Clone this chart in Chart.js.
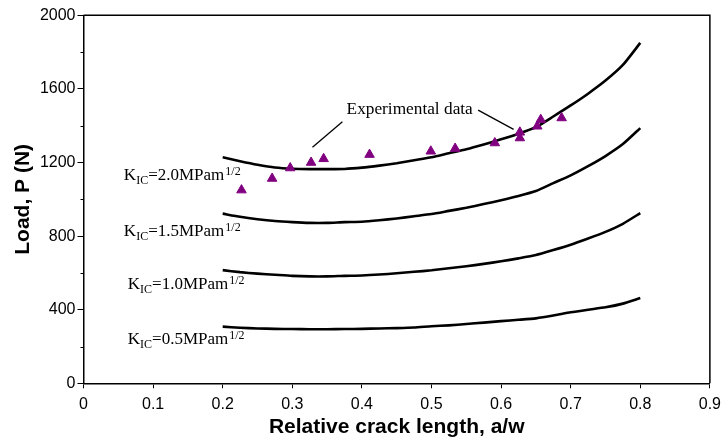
<!DOCTYPE html>
<html>
<head>
<meta charset="utf-8">
<script src="https://cdn.jsdelivr.net/npm/chart.js@4.4.1/dist/chart.umd.min.js"></script>
<style>
  html, body { margin: 0; padding: 0; background: #fff; }
  #wrap { width: 728px; height: 440px; }
</style>
</head>
<body>
<div id="wrap"><canvas id="loadChart" width="728" height="440"></canvas></div>
<script>
// relative crack length a/w where the model curves were evaluated
const crackRatio = [0.2, 0.225, 0.25, 0.275, 0.3, 0.325, 0.35, 0.375, 0.4, 0.425, 0.45, 0.475, 0.5,
  0.525, 0.55, 0.575, 0.6, 0.625, 0.65, 0.675, 0.7, 0.725, 0.75, 0.775, 0.8];

// predicted load (N) for each fracture toughness
const loadK20 = [1228, 1207, 1188, 1173, 1166, 1164, 1164, 1165, 1172, 1183, 1196, 1212, 1228,
  1250, 1272, 1298, 1326, 1356, 1392, 1450, 1510, 1574, 1645, 1730, 1850];
const loadK15 = [922, 905, 892, 882, 876, 872, 872, 876, 878, 886, 896, 908, 920,
  937, 954, 974, 995, 1018, 1045, 1088, 1130, 1180, 1235, 1300, 1387];
const loadK10 = [615, 604, 596, 590, 584, 581, 581, 584, 586, 591, 598, 606, 614,
  625, 636, 649, 663, 679, 697, 724, 753, 787, 823, 867, 925];
const loadK05 = [308, 302, 298, 296, 295, 294, 294, 295, 296, 298, 300, 303, 310,
  315, 322, 330, 338, 345, 353, 368, 386, 400, 413, 433, 463];

// measured loads
const expRatio = [0.227, 0.271, 0.297, 0.327, 0.345, 0.411, 0.499, 0.534, 0.591, 0.627, 0.627, 0.652, 0.657, 0.687];
const expLoad = [1050, 1113, 1170, 1200, 1220, 1243, 1261, 1276, 1306, 1333, 1364, 1397, 1433, 1442];

const kicValues = ['2.0', '1.5', '1.0', '0.5'];
const xTitle = 'Relative crack length, a/w';
const yTitle = 'Load, P (N)';
const noteText = 'Experimental data';

const toPoints = (xs, ys) => xs.map((v, i) => ({ x: v, y: ys[i] }));

const curve = (vals) => ({
  type: 'line',
  data: toPoints(crackRatio, vals),
  borderColor: '#000',
  borderWidth: 2.6,
  pointRadius: 0,
  tension: 0.2,
  fill: false
});

const serif = '"Liberation Serif", "Times New Roman", serif';
const sans = '"Liberation Sans", Arial, sans-serif';

function drawPart(ctx, text, px, py, size) {
  ctx.font = size + 'px ' + serif;
  ctx.fillText(text, px, py);
  return px + ctx.measureText(text).width;
}

// labels, leader lines, frame and minor ticks
const curveNotes = {
  id: 'curveNotes',
  afterDraw(chart) {
    const { ctx, chartArea: a, scales: { x, y } } = chart;
    ctx.save();
    ctx.strokeStyle = '#000';
    ctx.fillStyle = '#000';

    ctx.lineWidth = 1.5;
    ctx.beginPath();
    ctx.moveTo(a.left, a.top);
    ctx.lineTo(a.right, a.top);
    ctx.lineTo(a.right, a.bottom);
    ctx.stroke();

    ctx.lineWidth = 1;
    for (let v = 200; v < 2000; v += 400) {
      const py = Math.round(y.getPixelForValue(v)) + 0.5;
      ctx.beginPath();
      ctx.moveTo(a.left - 3, py);
      ctx.lineTo(a.left, py);
      ctx.stroke();
    }

    ctx.textBaseline = 'alphabetic';
    ctx.textAlign = 'left';
    const spots = [[0.058, 1105], [0.058, 802], [0.0637, 511], [0.0637, 215]];
    kicValues.forEach((k, i) => {
      let px = x.getPixelForValue(spots[i][0]);
      const py = y.getPixelForValue(spots[i][1]);
      px = drawPart(ctx, 'K', px, py, 17);
      px = drawPart(ctx, 'IC', px, py + 4, 12);
      px = drawPart(ctx, '=' + k + 'MPam', px, py, 17);
      drawPart(ctx, '1/2', px + 1, py - 5, 12);
    });

    drawPart(ctx, noteText, x.getPixelForValue(0.378), y.getPixelForValue(1464), 17.3);

    ctx.lineWidth = 1.3;
    const leaders = [[0.372, 1422, 0.329, 1283], [0.567, 1485, 0.618, 1380]];
    leaders.forEach(([x1, y1, x2, y2]) => {
      ctx.beginPath();
      ctx.moveTo(x.getPixelForValue(x1), y.getPixelForValue(y1));
      ctx.lineTo(x.getPixelForValue(x2), y.getPixelForValue(y2));
      ctx.stroke();
    });
    ctx.restore();
  }
};

new Chart(document.getElementById('loadChart'), {
  type: 'line',
  data: {
    datasets: [
      {
        type: 'scatter',
        data: toPoints(expRatio, expLoad),
        showLine: false,
        pointStyle: 'triangle',
        pointRadius: 5.5,
        pointBorderWidth: 1,
        pointBackgroundColor: '#800080',
        pointBorderColor: '#800080'
      },
      curve(loadK20),
      curve(loadK15),
      curve(loadK10),
      curve(loadK05)
    ]
  },
  options: {
    responsive: false,
    animation: false,
    layout: { padding: { top: 15.3, right: 11.7, bottom: 0, left: 0 } },
    plugins: { legend: { display: false }, tooltip: { enabled: false } },
    scales: {
      x: {
        type: 'linear',
        min: 0,
        max: 0.9,
        afterFit: (s) => { s.height = 56.7; },
        ticks: {
          stepSize: 0.1,
          color: '#000',
          padding: 7,
          font: { family: sans, size: 16 },
          callback: (v) => String(Number(v.toFixed(1)))
        },
        grid: { display: true, drawOnChartArea: false, drawTicks: true, tickLength: 5, color: '#000' },
        border: { display: true, color: '#000', width: 1.5 },
        title: {
          display: true,
          text: xTitle,
          color: '#000',
          padding: { top: 0, bottom: 0 },
          font: { family: sans, size: 21, weight: 'bold' }
        }
      },
      y: {
        type: 'linear',
        min: 0,
        max: 2000,
        afterFit: (s) => { s.width = 83.5; },
        ticks: {
          stepSize: 400,
          color: '#000',
          padding: 2,
          font: { family: sans, size: 16 },
          callback: (v) => String(v)
        },
        grid: { display: true, drawOnChartArea: false, drawTicks: true, tickLength: 6, color: '#000' },
        border: { display: true, color: '#000', width: 1.5 },
        title: {
          display: true,
          text: yTitle,
          color: '#000',
          padding: { top: 11, bottom: 0 },
          font: { family: sans, size: 21, weight: 'bold' }
        }
      }
    }
  },
  plugins: [curveNotes]
});
</script>
</body>
</html>
